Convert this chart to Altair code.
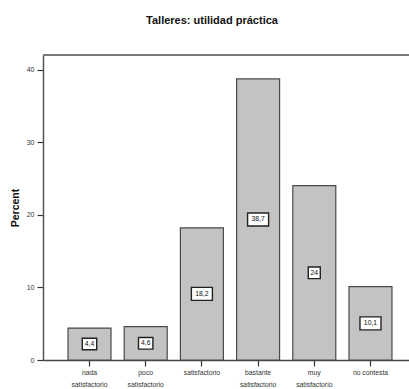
import altair as alt
import pandas as pd

categories = ["nada satisfactorio", "poco satisfactorio", "satisfactorio",
              "bastante satisfactorio", "muy satisfactorio", "no contesta"]
values = [4.4, 4.6, 18.2, 38.7, 24.0, 10.1]
labels = ["4,4", "4,6", "18,2", "38,7", "24", "10,1"]
y_ticks = [0, 10, 20, 30, 40]

df = pd.DataFrame({"cat": categories, "value": values, "label": labels})

FONT = "Liberation Sans"
W, H = 366, 305

x_enc = alt.X(
    "cat:N", sort=categories,
    scale=alt.Scale(paddingInner=0.235, paddingOuter=0.374, align=0.595),
    axis=alt.Axis(
        title=None, labelAngle=0, tickSize=6, tickColor="#333", tickWidth=1.2,
        domainColor="#444", domainWidth=1.5, labelFont=FONT, labelFontSize=6.8,
        labelColor="#333", labelPadding=3, labelLineHeight=12.5,
        labelExpr="indexof(datum.label,' satisfactorio')>0 ? [replace(datum.label,' satisfactorio',''),'satisfactorio'] : datum.label",
    ),
)
y_scale = alt.Scale(domain=[0, 42], nice=False, zero=True)

base = alt.Chart(df)

bars = base.mark_bar(fill="#c3c3c3", stroke="#4a4a4a", strokeWidth=1.2).encode(
    x=x_enc,
    y=alt.Y("value:Q", scale=y_scale,
            axis=alt.Axis(values=y_ticks, grid=False, tickSize=6, tickColor="#333",
                          tickWidth=1.2, domainColor="#555", domainWidth=1.5,
                          labelFont=FONT, labelFontSize=7, labelColor="#333",
                          labelPadding=3, title="Percent", titleFont=FONT,
                          titleFontSize=10.5, titleFontWeight="bold",
                          titleColor="#111", titleX=-23, titleY=H / 2)),
)

paths = ["M-0.6,-0.58H0.6V0.58H-0.6Z",
         "M-0.72,-0.58H0.72V0.58H-0.72Z",
         "M-1.05,-0.65H1.05V0.65H-1.05Z"]

boxes = base.transform_calculate(
    half="datum.value/2", n="length(datum.label)"
).mark_point(filled=True, fill="white", stroke="#222", strokeWidth=1.4,
             size=400, opacity=1).encode(
    x=alt.X("cat:N", sort=categories),
    y=alt.Y("half:Q", scale=y_scale),
    shape=alt.Shape("n:O", scale=alt.Scale(domain=[2, 3, 4], range=paths), legend=None),
)

texts = base.transform_calculate(half="datum.value/2").mark_text(
    font=FONT, fontSize=6.8, color="#111", baseline="middle", align="center"
).encode(
    x=alt.X("cat:N", sort=categories),
    y=alt.Y("half:Q", scale=y_scale),
    text="label:N",
)

top_line = alt.Chart(pd.DataFrame({"v": [42]})).mark_rule(
    color="#7a7a7a", strokeWidth=2
).encode(y=alt.Y("v:Q", scale=y_scale), x=alt.value(0), x2=alt.value(W + 20))

chart = alt.layer(bars, top_line, boxes, texts).properties(
    width=W, height=H,
    title=alt.TitleParams("Talleres: utilidad práctica", font=FONT, fontSize=11,
                          fontWeight="bold", color="#111", offset=28, dx=-14),
    autosize=alt.AutoSizeParams(type="none"),
    padding={"left": 43, "top": 55, "right": 0, "bottom": 29},
).configure_view(stroke=None).configure(background="white")

chart.save("out.html", embed_options={"renderer": "svg", "actions": False})
